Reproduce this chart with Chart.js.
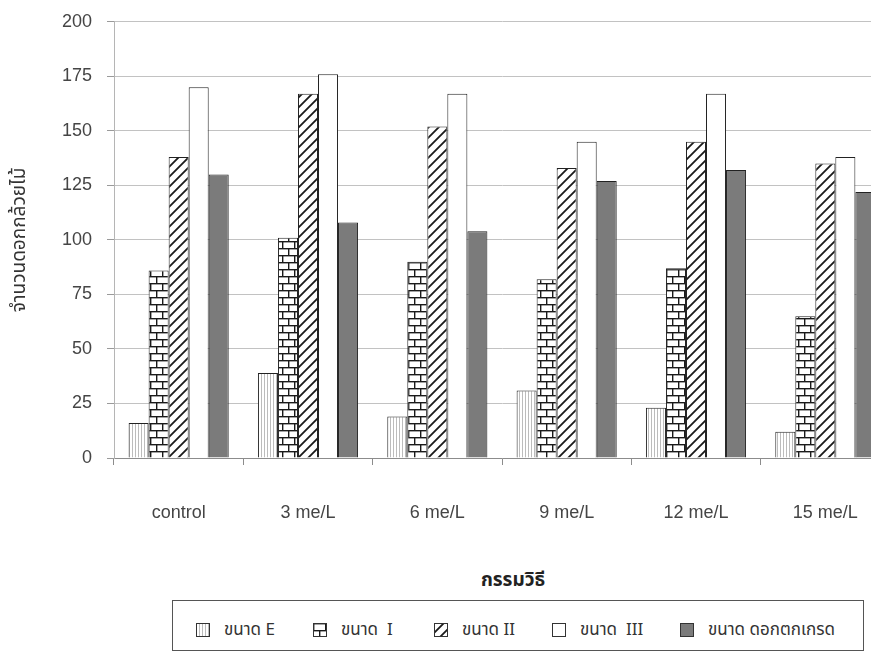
<!DOCTYPE html>
<html>
<head>
<meta charset="utf-8">
<script src="https://cdn.jsdelivr.net/npm/chart.js@4/dist/chart.umd.min.js"></script>
<style>
  html, body { margin: 0; padding: 0; overflow: hidden; background: #fff; width: 871px; height: 660px; }
  #plot { position: absolute; left: 0; top: -4px; }
  .thai { font-family: "Noto Sans Thai", "Loma", "Garuda", "Tlwg Typo", "Noto Sans", "DejaVu Sans", sans-serif; }
  #xtitle { position: absolute; left: 413px; width: 200px; top: 569px; height: 24px; line-height: 24px;
            text-align: center; font-weight: bold; font-size: 19px; color: #222; }
  #legend { position: absolute; left: 172px; top: 600px; width: 692px; height: 51px; box-sizing: border-box;
            border: 1px solid #555; }
  .item { position: absolute; top: 4px; height: 49px; display: flex; align-items: center; }
  .item canvas { display: block; margin-right: 14px; }
  .item span { white-space: pre; font-size: 17px; color: #333; line-height: 22px; }
</style>
</head>
<body>
<canvas id="plot" width="900" height="544"></canvas>
<div id="xtitle" class="thai">กรรมวิธี</div>
<div id="legend" class="thai"></div>
<script>
// treatments along the x axis
const categories = ['control', '3 me/L', '6 me/L', '9 me/L', '12 me/L', '15 me/L'];

// flower counts per size class
const sizeE      = [16, 39, 19, 31, 23, 12];
const sizeI      = [86, 101, 90, 82, 87, 65];
const sizeII     = [138, 167, 152, 133, 145, 135];
const sizeIII    = [170, 176, 167, 145, 167, 138];
const sizeReject = [130, 108, 104, 127, 132, 122];

const seriesNames = ['ขนาด E', 'ขนาด  I', 'ขนาด II', 'ขนาด  III', 'ขนาด ดอกตกเกรด'];
const yTitle = 'จำนวนดอกกล้วยไม้';

const yMin = 0, yMax = 200, yStep = 25;

// ---- fill tiles ----
function tile(kind) {
  const c = document.createElement('canvas');
  const g = c.getContext('2d');
  if (kind === 'vlines') {
    c.width = 3; c.height = 4;
    g.fillStyle = '#fff'; g.fillRect(0, 0, 3, 4);
    g.fillStyle = '#bcbcbc'; g.fillRect(0, 0, 1, 4);
  } else if (kind === 'brick') {
    c.width = 12; c.height = 14;
    g.fillStyle = '#fff'; g.fillRect(0, 0, 12, 14);
    g.fillStyle = '#1a1a1a';
    g.fillRect(0, 0, 12, 1.4);
    g.fillRect(0, 7, 12, 1.4);
    g.fillRect(0, 0, 1.4, 7);
    g.fillRect(6, 7, 1.4, 7);
  } else if (kind === 'diag') {
    const s = 10;
    c.width = s; c.height = s;
    g.fillStyle = '#fff'; g.fillRect(0, 0, s, s);
    g.strokeStyle = '#1a1a1a'; g.lineWidth = 1.8;
    g.beginPath();
    g.moveTo(-1, s + 1); g.lineTo(s + 1, -1);
    g.moveTo(-2, 2); g.lineTo(2, -2);
    g.moveTo(s - 2, s + 2); g.lineTo(s + 2, s - 2);
    g.stroke();
  } else if (kind === 'white') {
    c.width = 2; c.height = 2;
    g.fillStyle = '#fff'; g.fillRect(0, 0, 2, 2);
  } else {
    c.width = 2; c.height = 2;
    g.fillStyle = '#7b7b7b'; g.fillRect(0, 0, 2, 2);
  }
  return c;
}

const plotCanvas = document.getElementById('plot');
const ctx = plotCanvas.getContext('2d');
const kinds = ['vlines', 'brick', 'diag', 'white', 'solid'];
const fills = kinds.map(k => ctx.createPattern(tile(k), 'repeat'));
const values = [sizeE, sizeI, sizeII, sizeIII, sizeReject];

const datasets = values.map((v, i) => ({
  label: seriesNames[i],
  data: v,
  backgroundColor: fills[i],
  borderColor: '#222',
  borderWidth: 1,
  categoryPercentage: 0.774,
  barPercentage: 1.0
}));

const tickFont = { family: '"Liberation Sans", Arial, sans-serif', size: 18 };
const thaiFamily = '"Noto Sans Thai", "Loma", "Garuda", "Tlwg Typo", "Noto Sans", "DejaVu Sans", sans-serif';

new Chart(plotCanvas, {
  type: 'bar',
  data: { labels: categories, datasets },
  options: {
    responsive: false,
    devicePixelRatio: 1,
    animation: false,
    layout: { padding: { top: 16, right: 10, left: 0, bottom: 0 } },
    plugins: { legend: { display: false }, tooltip: { enabled: false } },
    scales: {
      x: {
        grid: { display: true, drawOnChartArea: false, offset: true, tickLength: 7, tickColor: '#8c8c8c' },
        border: { display: true, color: '#8c8c8c' },
        ticks: { font: tickFont, color: '#454545', padding: 37, maxRotation: 0, autoSkip: false },
        afterFit: s => { s.height = 82; }
      },
      y: {
        min: yMin, max: yMax,
        ticks: { stepSize: yStep, font: tickFont, color: '#454545', padding: 15 },
        grid: { color: '#c2c2c2', tickLength: 7, tickColor: '#9a9a9a' },
        border: { display: true, color: '#b5b5b5' },
        title: { display: true, text: yTitle, color: '#333', padding: { top: 10, bottom: 0 },
                 font: { family: thaiFamily, size: 19 } },
        afterFit: s => { s.width = 114; }
      }
    }
  }
});

// ---- legend box ----
const legend = document.getElementById('legend');
const itemLefts = [23, 140, 261, 379, 507];
seriesNames.forEach((name, i) => {
  const item = document.createElement('div');
  item.className = 'item';
  item.style.left = itemLefts[i] + 'px';
  const sw = document.createElement('canvas');
  sw.width = 14; sw.height = 14;
  const g = sw.getContext('2d');
  g.fillStyle = g.createPattern(tile(kinds[i]), 'repeat');
  g.fillRect(0, 0, 14, 14);
  g.strokeStyle = '#333'; g.lineWidth = 1;
  g.strokeRect(0.5, 0.5, 13, 13);
  const tx = document.createElement('span');
  tx.textContent = name;
  item.appendChild(sw);
  item.appendChild(tx);
  legend.appendChild(item);
});
</script>
</body>
</html>
